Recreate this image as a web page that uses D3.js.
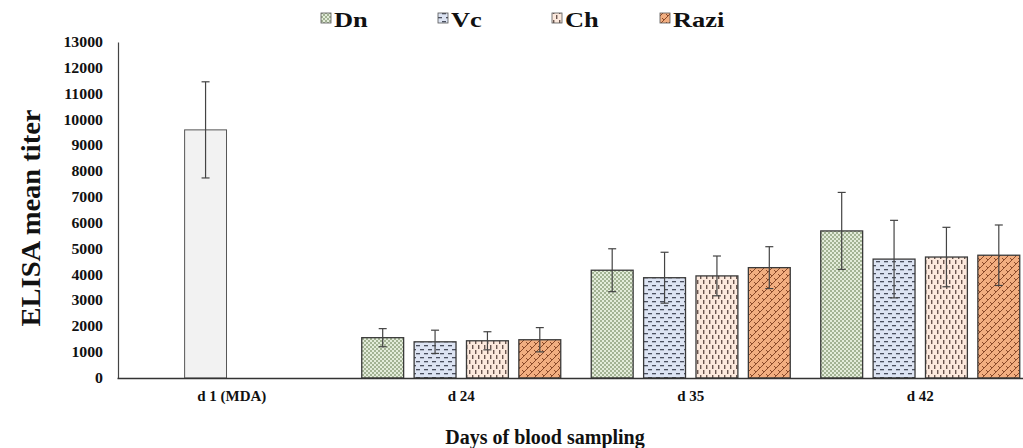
<!DOCTYPE html>
<html><head><meta charset="utf-8">
<script src="https://cdn.jsdelivr.net/npm/d3@7"></script>
<style>body{margin:0;background:#fff}svg{display:block}</style>
</head><body>
<svg id="c" width="1023" height="448"></svg>
<script>
const categories = ["d 1 (MDA)", "d 24", "d 35", "d 42"];
const seriesNames = ["Dn", "Vc", "Ch", "Razi"];
const mdaValue = 9600, mdaErr = 1860;
const dnValues   = [null, 1560, 4170, 5690];
const vcValues   = [null, 1400, 3880, 4600];
const chValues   = [null, 1440, 3950, 4680];
const raziValues = [null, 1480, 4270, 4750];
const dnErr   = [null, 350, 830, 1490];
const vcErr   = [null, 450, 985, 1500];
const chErr   = [null, 350, 770, 1150];
const raziErr = [null, 470, 810, 1170];
const yTicks = d3.range(0, 13001, 1000);

const svg = d3.select("#c");
const serif = "'Liberation Serif','Times New Roman',serif";
const x0 = d3.scaleBand().domain(categories).range([117, 1035]).paddingInner(0).paddingOuter(0);
const y = d3.scaleLinear().domain([0, 13000]).range([378, 42]);
const x1 = d3.scaleBand().domain(seriesNames).range([0, 199]).paddingInner(0.2);

function stretch(sel, f) {
  sel.each(function () {
    const w = this.getComputedTextLength();
    d3.select(this).attr("textLength", w * f).attr("lengthAdjust", "spacingAndGlyphs");
  });
}

// patterns
const defs = svg.append("defs");
function pat(id, w, h, bg, draw) {
  const p = defs.append("pattern").attr("id", id).attr("patternUnits", "userSpaceOnUse").attr("width", w).attr("height", h);
  p.append("rect").attr("width", w).attr("height", h).attr("fill", bg);
  draw(p);
}
pat("pDn", 4, 4, "#e3ecda", p => {
  p.append("rect").attr("x", 0).attr("y", 0).attr("width", 2).attr("height", 2).attr("fill", "#a3b394");
  p.append("rect").attr("x", 2).attr("y", 2).attr("width", 2).attr("height", 2).attr("fill", "#a3b394");
});
pat("pVc", 8, 8, "#dde4f3", p => {
  p.append("rect").attr("x", 0).attr("y", 1).attr("width", 4).attr("height", 1.3).attr("fill", "#4a4f5e");
  p.append("rect").attr("x", 4).attr("y", 5).attr("width", 4).attr("height", 1.3).attr("fill", "#4a4f5e");
});
pat("pCh", 6, 10, "#fce9dd", p => {
  p.append("rect").attr("x", 1).attr("y", 0).attr("width", 1.4).attr("height", 4).attr("fill", "#6a5650");
  p.append("rect").attr("x", 4).attr("y", 5).attr("width", 1.4).attr("height", 4).attr("fill", "#6a5650");
});
pat("pRazi", 8, 8, "#f2ae80", p => {
  p.append("path").attr("d", "M0,8 L8,0 M-2,2 L2,-2 M6,10 L10,6").attr("stroke", "#8a4a2a").attr("stroke-width", 1);
  p.append("path").attr("d", "M2,2 L4,4 M6,6 L8,8").attr("stroke", "#8a4a2a").attr("stroke-width", 1);
});
const fills = {Dn: "url(#pDn)", Vc: "url(#pVc)", Ch: "url(#pCh)", Razi: "url(#pRazi)"};
const vals = {Dn: dnValues, Vc: vcValues, Ch: chValues, Razi: raziValues};
const errs = {Dn: dnErr, Vc: vcErr, Ch: chErr, Razi: raziErr};

// y axis
const yAxis = d3.axisLeft(y).tickValues(yTicks).tickFormat(d3.format("d")).tickSize(0).tickPadding(15);
const gy = svg.append("g").attr("transform", "translate(118,0)").call(yAxis);
gy.select(".domain").attr("stroke", "#444").attr("stroke-width", 1.2);
gy.selectAll("text").attr("font-family", serif).attr("font-weight", "bold").attr("font-size", 14).attr("fill", "#111");
stretch(gy.selectAll("text"), 1.13);

// bars
const groupOffset = (x0.bandwidth() - x1.range()[1]) / 2;
const bars = [];
categories.forEach((c, i) => {
  seriesNames.forEach(s => {
    if (vals[s][i] != null) bars.push({c, s, v: vals[s][i], e: errs[s][i]});
  });
});
// MDA bar sits in Vc slot
bars.push({c: categories[0], s: "Vc", v: mdaValue, e: mdaErr, mda: true});

const g = svg.append("g");
g.selectAll("rect.bar").data(bars).join("rect").attr("class", "bar")
  .attr("x", d => x0(d.c) + groupOffset + x1(d.s))
  .attr("y", d => y(d.v))
  .attr("width", x1.bandwidth())
  .attr("height", d => y(0) - y(d.v))
  .attr("fill", d => d.mda ? "#f2f2f2" : fills[d.s])
  .attr("stroke", d => d.mda ? "#555" : "#3a3a3a")
  .attr("stroke-width", d => d.mda ? 1 : 1.3);

// error bars
const eb = g.selectAll("g.err").data(bars).join("g").attr("class", "err")
  .attr("transform", d => `translate(${x0(d.c) + groupOffset + x1(d.s) + x1.bandwidth() / 2},0)`);
eb.append("line").attr("y1", d => y(d.v + d.e)).attr("y2", d => y(d.v - d.e)).attr("stroke", "#444").attr("stroke-width", 1.2);
eb.append("line").attr("x1", -4).attr("x2", 4).attr("y1", d => y(d.v + d.e)).attr("y2", d => y(d.v + d.e)).attr("stroke", "#444").attr("stroke-width", 1.2);
eb.append("line").attr("x1", -4).attr("x2", 4).attr("y1", d => y(d.v - d.e)).attr("y2", d => y(d.v - d.e)).attr("stroke", "#444").attr("stroke-width", 1.2);

// x axis
const xAxis = d3.axisBottom(x0).tickSize(0).tickPadding(12);
const gx = svg.append("g").attr("transform", "translate(0,378)").call(xAxis);
gx.select(".domain").attr("stroke", "#333").attr("stroke-width", 1.5);
gx.selectAll("text").attr("font-family", serif).attr("font-weight", "bold").attr("font-size", 15).attr("fill", "#111");

// titles
svg.append("text").attr("x", 545).attr("y", 444).attr("text-anchor", "middle")
  .attr("font-family", serif).attr("font-weight", "bold").attr("font-size", 20).attr("fill", "#111")
  .text("Days of blood sampling");
svg.append("text").attr("transform", "translate(40,218) rotate(-90)").attr("text-anchor", "middle")
  .attr("font-family", serif).attr("font-weight", "bold").attr("font-size", 28).attr("fill", "#111")
  .attr("textLength", 217).attr("lengthAdjust", "spacingAndGlyphs")
  .text("ELISA mean titer");

// legend
const legX = [321, 438, 552, 660];
const leg = svg.append("g").selectAll("g").data(seriesNames).join("g")
  .attr("transform", (d, i) => `translate(${legX[i]},0)`);
leg.append("rect").attr("x", 0).attr("y", 13).attr("width", 10).attr("height", 10)
  .attr("fill", d => fills[d]).attr("stroke", "#555").attr("stroke-width", 0.8);
const lt = leg.append("text").attr("x", 13).attr("y", 27)
  .attr("font-family", serif).attr("font-weight", "bold").attr("font-size", 22).attr("fill", "#111")
  .text(d => d);
stretch(lt, 1.2);
</script>
</body></html>
